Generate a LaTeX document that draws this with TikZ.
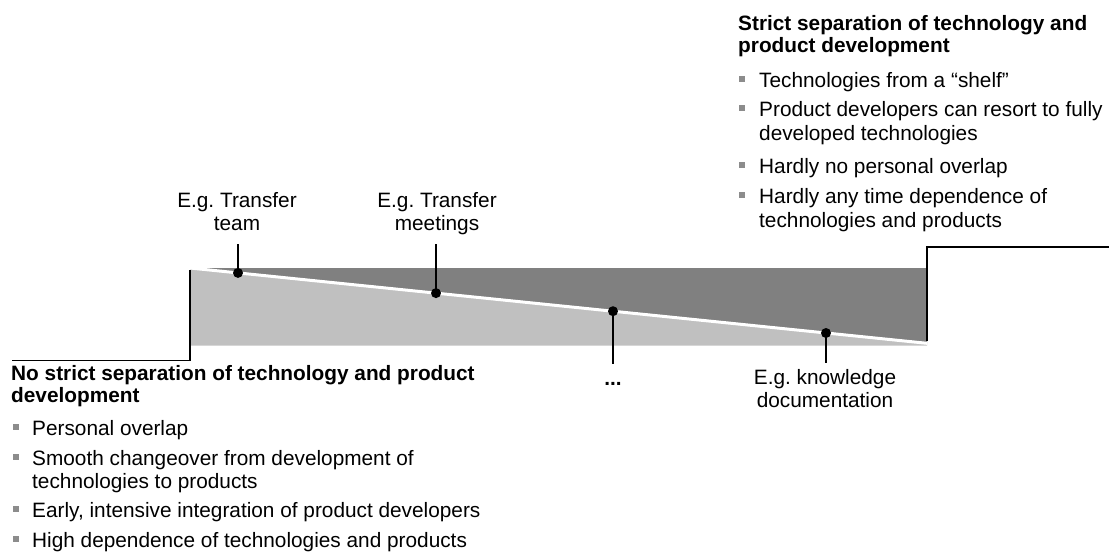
\documentclass[tikz,border=0pt]{standalone}
\usepackage{fontspec}
\setmainfont{Liberation Sans}
\definecolor{darkg}{RGB}{128,128,128}
\definecolor{lightg}{RGB}{192,192,192}
\definecolor{bulgray}{RGB}{140,140,140}
\frenchspacing
\begin{document}
\begin{tikzpicture}[x=1pt,y=-1pt,
  txt/.style={font=\fontsize{20.8}{23.5}\selectfont, inner sep=0pt, anchor=base west},
  hd/.style={txt, font=\fontsize{20.8}{22}\selectfont\bfseries},
  lbl/.style={txt, anchor=base},
  bul/.style={fill=bulgray, minimum size=6.5pt, inner sep=0pt, draw=none, rectangle},
  dot/.style={circle, fill=black, minimum size=10pt, inner sep=0pt},
  lead/.style={line width=1.8pt},
  stepline/.style={line width=1.6pt}]
\useasboundingbox (0,0) rectangle (1109,558);

% wedges
\fill[lightg] (190,268) -- (927,343.3) -- (927,345.5) -- (190,345.5) -- cycle;
\fill[darkg] (190,268) -- (927,268) -- (927,343.3) -- cycle;
\draw[white, line width=3pt] (190,268) -- (927,343.3);

% steps
\coordinate (l0) at (12,360.5);
\coordinate (l1) at (190,360.5);
\coordinate (l2) at (190,270);
\draw[stepline] (l0) -- (l1) -- (l2);
\coordinate (r0) at (927,341);
\coordinate (r1) at (927,247);
\coordinate (r2) at (1109,247);
\draw[stepline] (r0) -- (r1) -- (r2);

% dots and leaders
\node[dot] (d1) at (238,272.9) {};
\node[dot] (d2) at (436,293.1) {};
\node[dot] (d3) at (613,311.2) {};
\node[dot] (d4) at (826,333.0) {};
\coordinate (e1) at (238,244);
\coordinate (e2) at (436,244);
\coordinate (e3) at (613,364);
\coordinate (e4) at (826,363);
\draw[lead] (d1.center) -- (e1);
\draw[lead] (d2.center) -- (e2);
\draw[lead] (d3.center) -- (e3);
\draw[lead] (d4.center) -- (e4);

% labels
\node[lbl] (a1) at (237,207) {E.g. Transfer};
\node[lbl] (a2) at (237,230) {team};
\node[lbl] (b1) at (437,207) {E.g. Transfer};
\node[lbl] (b2) at (437,230) {meetings};
\node[lbl, font=\fontsize{20.8}{23.5}\selectfont\bfseries] (c1) at (613,385) {...};
\node[lbl] (k1) at (825,384) {E.g. knowledge};
\node[lbl] (k2) at (825,407) {documentation};

% right block
\node[hd] (rh1) at (738,30) {Strict separation of technology and};
\node[hd] (rh2) at (738,52) {product development};
\node[bul] (rb1) at (742,79) {};
\node[txt] (rt1) at (759,87) {Technologies from a “shelf”};
\node[bul] (rb2) at (742,108) {};
\node[txt] (rt2) at (759,116) {Product developers can resort to fully};
\node[txt] (rt2b) at (759,140) {developed technologies};
\node[bul] (rb3) at (742,165) {};
\node[txt] (rt3) at (759,173) {Hardly no personal overlap};
\node[bul] (rb4) at (742,195) {};
\node[txt] (rt4) at (759,203) {Hardly any time dependence of};
\node[txt] (rt4b) at (759,227) {technologies and products};

% left block
\node[hd] (lh1) at (11,380) {No strict separation of technology and product};
\node[hd] (lh2) at (11,402) {development};
\node[bul] (lb1) at (16,427) {};
\node[txt] (lt1) at (32,435) {Personal overlap};
\node[bul] (lb2) at (16,457) {};
\node[txt] (lt2) at (32,465) {Smooth changeover from development of};
\node[txt] (lt2b) at (32,488) {technologies to products};
\node[bul] (lb3) at (16,509) {};
\node[txt] (lt3) at (32,517) {Early, intensive integration of product developers};
\node[bul] (lb4) at (16,539) {};
\node[txt] (lt4) at (32,547) {High dependence of technologies and products};
\end{tikzpicture}
\end{document}
